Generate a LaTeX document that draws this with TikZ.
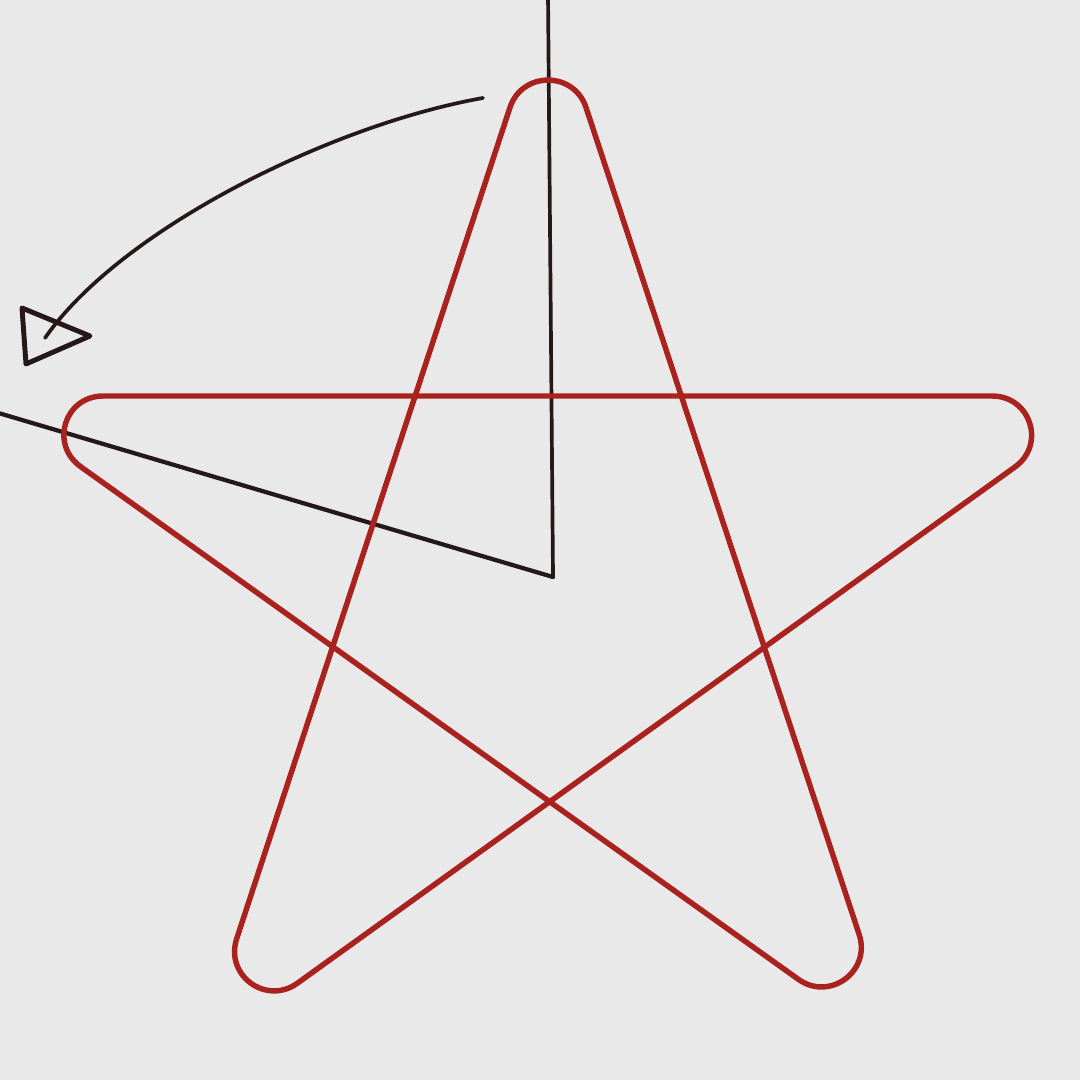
\documentclass[tikz,border=0pt]{standalone}
\usetikzlibrary{calc}
\definecolor{paper}{RGB}{233,233,233}
\definecolor{starred}{RGB}{170,34,30}
\definecolor{ink}{RGB}{36,24,24}
\newcommand\stTan{34.6pt}
\newcommand\stCtl{23.6pt}
\begin{document}
\begin{tikzpicture}[x=0.01cm,y=-0.01cm,
  starline/.style={draw=starred, line width=1.55pt, line join=round},
  inkline/.style={draw=ink, line width=1.05pt, line cap=round, line join=round}]
\fill[paper] (0,0) rectangle (1080,1080);
\useasboundingbox (0,0) rectangle (1080,1080);
% virtual tips of the star
\coordinate (VT) at (547.9,-7.9);
\coordinate (VL) at (-18.3,396);
\coordinate (VR) at (1113.6,396);
\coordinate (VBL) at (198.7,1054.2);
\coordinate (VBR) at (897.3,1050);
% tangent and control points
\coordinate (tA) at ($(VT)!\stTan!(VBL)$);  \coordinate (tAc) at ($(VT)!\stCtl!(VBL)$);
\coordinate (tB) at ($(VT)!\stTan!(VBR)$);  \coordinate (tBc) at ($(VT)!\stCtl!(VBR)$);
\coordinate (blA) at ($(VBL)!\stTan!(VT)$); \coordinate (blAc) at ($(VBL)!\stCtl!(VT)$);
\coordinate (blE) at ($(VBL)!\stTan!(VR)$); \coordinate (blEc) at ($(VBL)!\stCtl!(VR)$);
\coordinate (rE) at ($(VR)!\stTan!(VBL)$);  \coordinate (rEc) at ($(VR)!\stCtl!(VBL)$);
\coordinate (rC) at ($(VR)!\stTan!(VL)$);   \coordinate (rCc) at ($(VR)!\stCtl!(VL)$);
\coordinate (lC) at ($(VL)!\stTan!(VR)$);   \coordinate (lCc) at ($(VL)!\stCtl!(VR)$);
\coordinate (lD) at ($(VL)!\stTan!(VBR)$);  \coordinate (lDc) at ($(VL)!\stCtl!(VBR)$);
\coordinate (brD) at ($(VBR)!\stTan!(VL)$); \coordinate (brDc) at ($(VBR)!\stCtl!(VL)$);
\coordinate (brB) at ($(VBR)!\stTan!(VT)$); \coordinate (brBc) at ($(VBR)!\stCtl!(VT)$);
% black guide lines
\coordinate (vtop) at (548,-5);
\coordinate (ctr) at (553,577);
\coordinate (lft) at (-5,412);
\draw[inkline] (vtop) -- (ctr);
\draw[inkline, line width=1.2pt] (ctr) -- (lft);
% curved arrow
\coordinate (arS) at (483,98);
\coordinate (arE) at (45,338);
\draw[inkline] (arS) .. controls (330,125) and (120,230) .. (arE);
\coordinate (h1) at (22,308);
\coordinate (h2) at (90,336);
\coordinate (h3) at (26,364);
\draw[inkline, line width=1.4pt] (h1) -- (h2) -- (h3) -- cycle;
% star
\draw[starline] (tA) -- (blA) .. controls (blAc) and (blEc) .. (blE)
  -- (rE) .. controls (rEc) and (rCc) .. (rC)
  -- (lC) .. controls (lCc) and (lDc) .. (lD)
  -- (brD) .. controls (brDc) and (brBc) .. (brB)
  -- (tB) .. controls (tBc) and (tAc) .. cycle;
\end{tikzpicture}
\end{document}
